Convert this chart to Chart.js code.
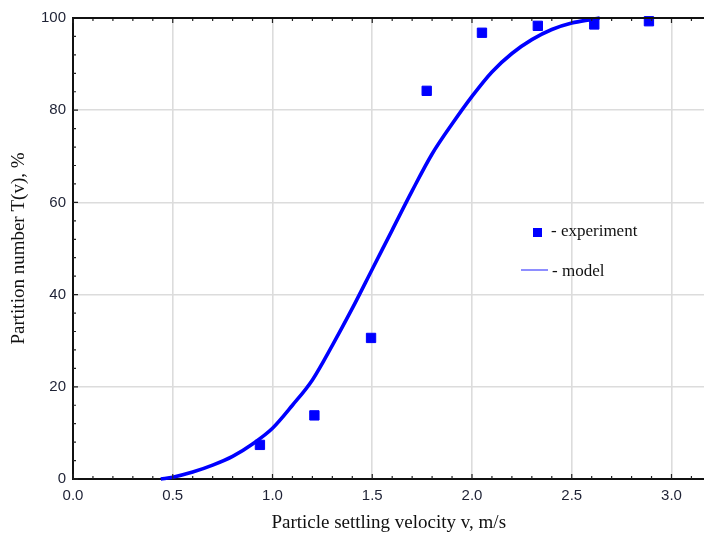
<!DOCTYPE html>
<html>
<head>
<meta charset="utf-8">
<script src="https://cdn.jsdelivr.net/npm/chart.js@4/dist/chart.umd.min.js"></script>
<style>
  html, body { margin: 0; padding: 0; background: #fff; overflow: hidden; }
  #wrap { width: 704px; height: 537px; overflow: hidden; }
  #inner { width: 712px; height: 537px; }
</style>
</head>
<body>
<div id="wrap"><div id="inner"><canvas id="partition"></canvas></div></div>
<script>
// experiment points
var expV = [0.937, 1.21, 1.494, 1.773, 2.05, 2.33, 2.613, 2.887];
var expT = [7.4, 13.8, 30.6, 84.2, 96.8, 98.3, 98.6, 99.3];

// model curve
var modelV = [0.44, 0.5, 0.6, 0.7, 0.8, 0.9, 1.0, 1.1, 1.2, 1.3, 1.4, 1.5, 1.6, 1.7, 1.8, 1.9, 2.0, 2.1, 2.2, 2.3, 2.4, 2.5, 2.6, 2.64];
var modelT = [0, 0.4, 1.5, 3, 4.9, 7.6, 11, 16, 21.5, 29, 37, 45.5, 54, 62.5, 70.5, 77, 83, 88.3, 92.3, 95.3, 97.5, 98.9, 99.7, 100];

var xTicks = [0, 0.5, 1.0, 1.5, 2.0, 2.5, 3.0];
var yTicks = [0, 20, 40, 60, 80, 100];

var toXY = function (xs, ys) {
    return xs.map(function (x, i) { return { x: x, y: ys[i] }; });
};

// small inward ticks on the frame + the legend box inside the plot
var frameBits = {
    id: 'frameBits',
    afterDraw: function (chart) {
        var ctx = chart.ctx, a = chart.chartArea;
        var xs = chart.scales.x, ys = chart.scales.y;
        ctx.save();
        ctx.strokeStyle = '#222';
        ctx.lineWidth = 1.2;
        ctx.beginPath();
        for (var v = 0; v <= 3.2; v += 0.1) {
            var px = xs.getPixelForValue(v);
            if (px > a.right) break;
            var len = Math.abs(v * 2 - Math.round(v * 2)) < 0.01 ? 5 : 3;
            ctx.moveTo(px, a.bottom); ctx.lineTo(px, a.bottom - len);
            ctx.moveTo(px, a.top); ctx.lineTo(px, a.top + len);
        }
        for (var t = 0; t <= 100; t += 4) {
            var py = ys.getPixelForValue(t);
            var l2 = t % 20 === 0 ? 5 : 3;
            ctx.moveTo(a.left, py); ctx.lineTo(a.left + l2, py);
        }
        ctx.stroke();

        // top frame line
        ctx.strokeStyle = '#111';
        ctx.lineWidth = 2;
        ctx.beginPath();
        ctx.moveTo(a.left, a.top); ctx.lineTo(a.right, a.top);
        ctx.stroke();

        // legend
        ctx.fillStyle = '#0000ff';
        ctx.fillRect(533, 228, 9, 9);
        ctx.strokeStyle = '#7272ff';
        ctx.lineWidth = 1.6;
        ctx.beginPath();
        ctx.moveTo(521, 270); ctx.lineTo(548, 270);
        ctx.stroke();
        ctx.fillStyle = '#111';
        ctx.font = '17px "Liberation Serif", serif';
        ctx.textBaseline = 'middle';
        ctx.fillText('- experiment', 551, 232);
        ctx.fillText('- model', 552, 272);
        ctx.restore();
    }
};

var data = {
    datasets: [{
        label: 'experiment',
        type: 'scatter',
        data: toXY(expV, expT),
        backgroundColor: '#0000ff',
        borderColor: '#0000ff',
        pointStyle: 'rect',
        pointRadius: 6.6,
        clip: false,
        order: 0
    }, {
        label: 'model',
        type: 'line',
        data: toXY(modelV, modelT),
        borderColor: '#0000ff',
        borderWidth: 3.6,
        pointRadius: 0,
        fill: false,
        cubicInterpolationMode: 'monotone',
        clip: false,
        order: 1
    }]
};

var config = {
    type: 'scatter',
    data: data,
    options: {
        responsive: true,
        maintainAspectRatio: false,
        animation: false,
        layout: { padding: { left: 0, right: 0, top: 18, bottom: 3 } },
        plugins: {
            legend: { display: false },
            tooltip: { enabled: false }
        },
        scales: {
            x: {
                type: 'linear',
                min: 0,
                max: 3.165,
                afterBuildTicks: function (s) {
                    s.ticks = xTicks.map(function (v) { return { value: v }; });
                },
                afterFit: function (s) { s.height = 55; },
                grid: { color: '#dcdcdc', lineWidth: 1.6, drawTicks: false },
                border: { display: true, color: '#111', width: 2 },
                ticks: {
                    color: '#1e2235',
                    padding: 8,
                    font: { family: '"Liberation Sans", Arial, sans-serif', size: 15 },
                    callback: function (v) { return Number(v).toFixed(1); }
                },
                title: {
                    display: true,
                    text: 'Particle settling velocity v, m/s',
                    color: '#111',
                    font: { family: '"Liberation Serif", "Times New Roman", serif', size: 19 },
                    padding: { top: 6, bottom: 0 }
                }
            },
            y: {
                min: 0,
                max: 100,
                afterBuildTicks: function (s) {
                    s.ticks = yTicks.map(function (v) { return { value: v }; });
                },
                afterFit: function (s) { s.width = 73; },
                grid: { color: '#dcdcdc', lineWidth: 1.6, drawTicks: false },
                border: { display: true, color: '#111', width: 2 },
                ticks: {
                    color: '#1e2235',
                    padding: 7,
                    font: { family: '"Liberation Sans", Arial, sans-serif', size: 15 }
                },
                title: {
                    display: true,
                    text: 'Partition number T(v), %',
                    color: '#111',
                    font: { family: '"Liberation Serif", "Times New Roman", serif', size: 19 },
                    padding: { top: 8, bottom: 0 }
                }
            }
        }
    },
    plugins: [frameBits]
};

var chart = new Chart(document.getElementById('partition'), config);
</script>
</body>
</html>
